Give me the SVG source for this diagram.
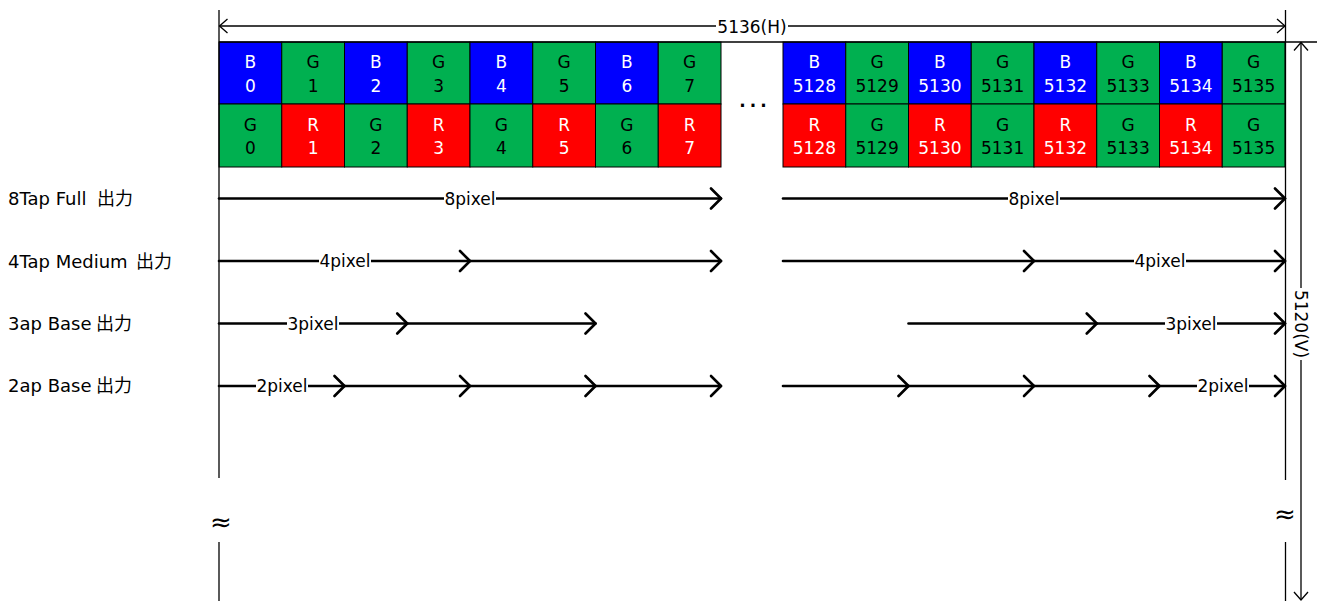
<svg xmlns="http://www.w3.org/2000/svg" width="1325" height="601" viewBox="0 0 1325 601">
<style>
text{font-family:"DejaVu Sans","Noto Sans CJK JP",sans-serif;font-size:17px}
.c{stroke:#000;stroke-width:1}
.b{fill:#0000FF}.g{fill:#00B050}.r{fill:#FF0000}
.tw{fill:#fff;text-anchor:middle}.tk{fill:#000;text-anchor:middle}
.arr{stroke:#000;stroke-width:2.6;stroke-linecap:round;fill:none;marker-end:url(#chev)}
.dim{stroke:#000;stroke-width:1.3;fill:none}
.ext{stroke:#000;stroke-width:1.3}
.lbg{fill:#fff}
.lbl{fill:#000;text-anchor:middle}
.side{fill:#000;font-size:18px}
.cjk{font-family:"Noto Sans CJK JP",sans-serif;font-size:18px}
.apx{fill:#000;text-anchor:middle;font-size:26px}
</style>
<defs>
<marker id="chev" viewBox="-12 -12 14 24" markerWidth="14" markerHeight="24" refX="0" refY="0" orient="auto" markerUnits="userSpaceOnUse"><path d="M-10,-10 L0,0 L-10,10" fill="none" stroke="#000" stroke-width="2.6" stroke-linecap="round" stroke-linejoin="round"/></marker>
<marker id="dimh" viewBox="-10 -9 12 18" markerWidth="12" markerHeight="18" refX="0" refY="0" orient="auto-start-reverse" markerUnits="userSpaceOnUse"><path d="M-8,-7 L0,0 L-8,7" fill="none" stroke="#000" stroke-width="1.3"/></marker>
</defs>
<rect width="1325" height="601" fill="#fff"/>

<g id="cells-left">
<g id="cL0t"><rect class="c b" x="219" y="42" width="62.75" height="62"/><text class="tw" x="250.4" y="68">B</text><text class="tw" x="250.4" y="92">0</text></g>
<g id="cL1t"><rect class="c g" x="281.75" y="42" width="62.75" height="62"/><text class="tk" x="313.1" y="68">G</text><text class="tk" x="313.1" y="92">1</text></g>
<g id="cL2t"><rect class="c b" x="344.5" y="42" width="62.75" height="62"/><text class="tw" x="375.9" y="68">B</text><text class="tw" x="375.9" y="92">2</text></g>
<g id="cL3t"><rect class="c g" x="407.25" y="42" width="62.75" height="62"/><text class="tk" x="438.6" y="68">G</text><text class="tk" x="438.6" y="92">3</text></g>
<g id="cL4t"><rect class="c b" x="470" y="42" width="62.75" height="62"/><text class="tw" x="501.4" y="68">B</text><text class="tw" x="501.4" y="92">4</text></g>
<g id="cL5t"><rect class="c g" x="532.75" y="42" width="62.75" height="62"/><text class="tk" x="564.1" y="68">G</text><text class="tk" x="564.1" y="92">5</text></g>
<g id="cL6t"><rect class="c b" x="595.5" y="42" width="62.75" height="62"/><text class="tw" x="626.9" y="68">B</text><text class="tw" x="626.9" y="92">6</text></g>
<g id="cL7t"><rect class="c g" x="658.25" y="42" width="62.75" height="62"/><text class="tk" x="689.6" y="68">G</text><text class="tk" x="689.6" y="92">7</text></g>
<g id="cL0b"><rect class="c g" x="219" y="104" width="62.75" height="63"/><text class="tk" x="250.4" y="131">G</text><text class="tk" x="250.4" y="154">0</text></g>
<g id="cL1b"><rect class="c r" x="281.75" y="104" width="62.75" height="63"/><text class="tw" x="313.1" y="131">R</text><text class="tw" x="313.1" y="154">1</text></g>
<g id="cL2b"><rect class="c g" x="344.5" y="104" width="62.75" height="63"/><text class="tk" x="375.9" y="131">G</text><text class="tk" x="375.9" y="154">2</text></g>
<g id="cL3b"><rect class="c r" x="407.25" y="104" width="62.75" height="63"/><text class="tw" x="438.6" y="131">R</text><text class="tw" x="438.6" y="154">3</text></g>
<g id="cL4b"><rect class="c g" x="470" y="104" width="62.75" height="63"/><text class="tk" x="501.4" y="131">G</text><text class="tk" x="501.4" y="154">4</text></g>
<g id="cL5b"><rect class="c r" x="532.75" y="104" width="62.75" height="63"/><text class="tw" x="564.1" y="131">R</text><text class="tw" x="564.1" y="154">5</text></g>
<g id="cL6b"><rect class="c g" x="595.5" y="104" width="62.75" height="63"/><text class="tk" x="626.9" y="131">G</text><text class="tk" x="626.9" y="154">6</text></g>
<g id="cL7b"><rect class="c r" x="658.25" y="104" width="62.75" height="63"/><text class="tw" x="689.6" y="131">R</text><text class="tw" x="689.6" y="154">7</text></g>
</g>

<g id="cells-right">
<g id="cR0t"><rect class="c b" x="783" y="42" width="62.75" height="62"/><text class="tw" x="814.4" y="68">B</text><text class="tw" x="814.4" y="92">5128</text></g>
<g id="cR1t"><rect class="c g" x="845.75" y="42" width="62.75" height="62"/><text class="tk" x="877.1" y="68">G</text><text class="tk" x="877.1" y="92">5129</text></g>
<g id="cR2t"><rect class="c b" x="908.5" y="42" width="62.75" height="62"/><text class="tw" x="939.9" y="68">B</text><text class="tw" x="939.9" y="92">5130</text></g>
<g id="cR3t"><rect class="c g" x="971.25" y="42" width="62.75" height="62"/><text class="tk" x="1002.6" y="68">G</text><text class="tk" x="1002.6" y="92">5131</text></g>
<g id="cR4t"><rect class="c b" x="1034" y="42" width="62.75" height="62"/><text class="tw" x="1065.4" y="68">B</text><text class="tw" x="1065.4" y="92">5132</text></g>
<g id="cR5t"><rect class="c g" x="1096.75" y="42" width="62.75" height="62"/><text class="tk" x="1128.1" y="68">G</text><text class="tk" x="1128.1" y="92">5133</text></g>
<g id="cR6t"><rect class="c b" x="1159.5" y="42" width="62.75" height="62"/><text class="tw" x="1190.9" y="68">B</text><text class="tw" x="1190.9" y="92">5134</text></g>
<g id="cR7t"><rect class="c g" x="1222.25" y="42" width="62.75" height="62"/><text class="tk" x="1253.6" y="68">G</text><text class="tk" x="1253.6" y="92">5135</text></g>
<g id="cR0b"><rect class="c r" x="783" y="104" width="62.75" height="63"/><text class="tw" x="814.4" y="131">R</text><text class="tw" x="814.4" y="154">5128</text></g>
<g id="cR1b"><rect class="c g" x="845.75" y="104" width="62.75" height="63"/><text class="tk" x="877.1" y="131">G</text><text class="tk" x="877.1" y="154">5129</text></g>
<g id="cR2b"><rect class="c r" x="908.5" y="104" width="62.75" height="63"/><text class="tw" x="939.9" y="131">R</text><text class="tw" x="939.9" y="154">5130</text></g>
<g id="cR3b"><rect class="c g" x="971.25" y="104" width="62.75" height="63"/><text class="tk" x="1002.6" y="131">G</text><text class="tk" x="1002.6" y="154">5131</text></g>
<g id="cR4b"><rect class="c r" x="1034" y="104" width="62.75" height="63"/><text class="tw" x="1065.4" y="131">R</text><text class="tw" x="1065.4" y="154">5132</text></g>
<g id="cR5b"><rect class="c g" x="1096.75" y="104" width="62.75" height="63"/><text class="tk" x="1128.1" y="131">G</text><text class="tk" x="1128.1" y="154">5133</text></g>
<g id="cR6b"><rect class="c r" x="1159.5" y="104" width="62.75" height="63"/><text class="tw" x="1190.9" y="131">R</text><text class="tw" x="1190.9" y="154">5134</text></g>
<g id="cR7b"><rect class="c g" x="1222.25" y="104" width="62.75" height="63"/><text class="tk" x="1253.6" y="131">G</text><text class="tk" x="1253.6" y="154">5135</text></g>
</g>

<g id="ellipsis"><text x="755" y="107" class="lbl" font-size="20" font-weight="bold" letter-spacing="4">...</text></g>

<g id="dimensions">
<line class="ext" x1="219" y1="10" x2="219" y2="478"/>
<line class="ext" x1="219" y1="542" x2="219" y2="601"/>
<line class="ext" x1="1285.5" y1="10" x2="1285.5" y2="480"/>
<line class="ext" x1="1285.5" y1="542" x2="1285.5" y2="601"/>
<line class="ext" x1="219" y1="42" x2="1317" y2="42" stroke-width="1.8"/>
<line class="dim" x1="219.5" y1="26" x2="1285" y2="26" marker-start="url(#dimh)" marker-end="url(#dimh)"/>
<line class="dim" x1="1301" y1="42.5" x2="1301" y2="600" marker-start="url(#dimh)" marker-end="url(#dimh)"/>
<rect class="lbg" x="716" y="17" width="72" height="18"/>
<text class="lbl" x="752" y="32.5">5136(H)</text>
<rect class="lbg" x="1292" y="288" width="18" height="72"/>
<text class="lbl" x="1301" y="324" transform="rotate(90 1301 324)" dy="6">5120(V)</text>
<text class="apx" x="221" y="531">≈</text>
<text class="apx" x="1285" y="523">≈</text>
</g>

<g id="row-labels">
<g id="lab8"><text class="side" x="8" y="205">8Tap Full <tspan class="cjk" x="97">出力</tspan></text></g>
<g id="lab4"><text class="side" x="8" y="268">4Tap Medium <tspan class="cjk" x="136">出力</tspan></text></g>
<g id="lab3"><text class="side" x="8" y="330">3ap Base <tspan class="cjk" x="96">出力</tspan></text></g>
<g id="lab2"><text class="side" x="8" y="392">2ap Base <tspan class="cjk" x="96">出力</tspan></text></g>
</g>

<g id="connectors">
<line class="arr" x1="219" y1="198.5" x2="721" y2="198.5"/>
<line class="arr" x1="783" y1="198.5" x2="1285" y2="198.5"/>
<line class="arr" x1="219" y1="261" x2="470" y2="261"/>
<line class="arr" x1="470" y1="261" x2="721" y2="261"/>
<line class="arr" x1="783" y1="261" x2="1034" y2="261"/>
<line class="arr" x1="1034" y1="261" x2="1285" y2="261"/>
<line class="arr" x1="219" y1="323.5" x2="407.25" y2="323.5"/>
<line class="arr" x1="407.25" y1="323.5" x2="595.5" y2="323.5"/>
<line class="arr" x1="908.5" y1="323.5" x2="1096.75" y2="323.5"/>
<line class="arr" x1="1096.75" y1="323.5" x2="1285" y2="323.5"/>
<line class="arr" x1="219" y1="386" x2="344.5" y2="386"/>
<line class="arr" x1="344.5" y1="386" x2="470" y2="386"/>
<line class="arr" x1="470" y1="386" x2="595.5" y2="386"/>
<line class="arr" x1="595.5" y1="386" x2="721" y2="386"/>
<line class="arr" x1="783" y1="386" x2="908.5" y2="386"/>
<line class="arr" x1="908.5" y1="386" x2="1034" y2="386"/>
<line class="arr" x1="1034" y1="386" x2="1159.5" y2="386"/>
<line class="arr" x1="1159.5" y1="386" x2="1285" y2="386"/>
<rect class="lbg" x="444" y="189" width="52" height="18"/><text class="lbl" x="470" y="204.5">8pixel</text>
<rect class="lbg" x="1008" y="189" width="52" height="18"/><text class="lbl" x="1034" y="204.5">8pixel</text>
<rect class="lbg" x="319" y="252" width="52" height="18"/><text class="lbl" x="345" y="267">4pixel</text>
<rect class="lbg" x="1134" y="252" width="52" height="18"/><text class="lbl" x="1160" y="267">4pixel</text>
<rect class="lbg" x="287" y="314" width="52" height="18"/><text class="lbl" x="313" y="329.5">3pixel</text>
<rect class="lbg" x="1165" y="314" width="52" height="18"/><text class="lbl" x="1191" y="329.5">3pixel</text>
<rect class="lbg" x="256" y="377" width="52" height="18"/><text class="lbl" x="282" y="392">2pixel</text>
<rect class="lbg" x="1197" y="377" width="52" height="18"/><text class="lbl" x="1223" y="392">2pixel</text>
</g>
</svg>
